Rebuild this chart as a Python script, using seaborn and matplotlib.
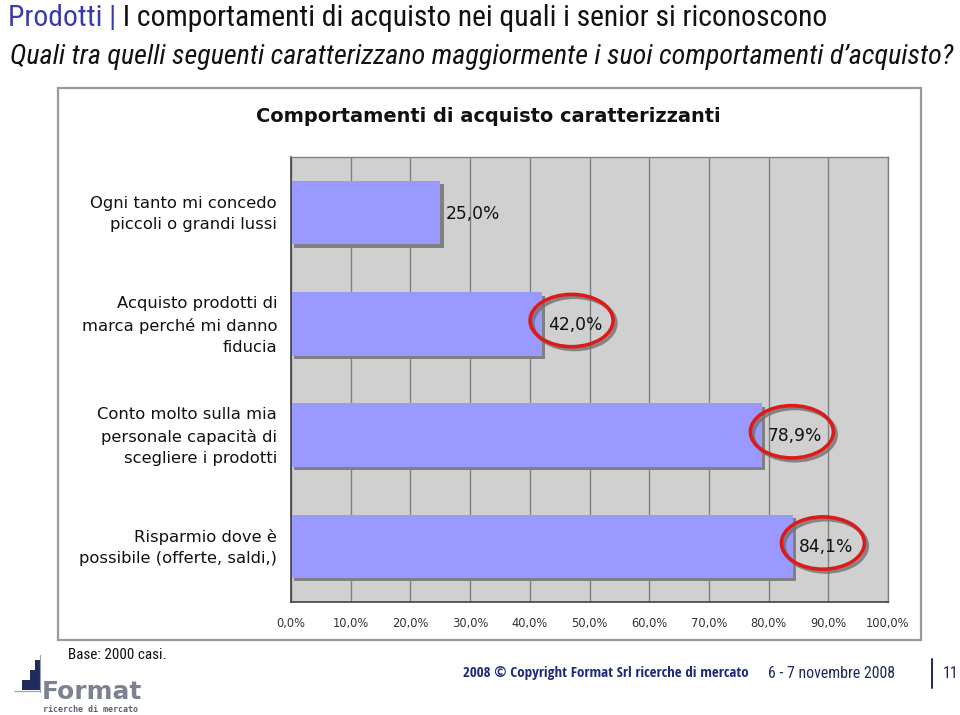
import matplotlib
matplotlib.use("Agg")
import matplotlib.pyplot as plt
import seaborn as sns
import pandas as pd
from matplotlib import patheffects as pe
from matplotlib.patches import Ellipse, Rectangle
from matplotlib import font_manager as fm
from matplotlib.transforms import ScaledTranslation

# ---------------- data ----------------
categories = [
    "Ogni tanto mi concedo\npiccoli o grandi lussi",
    "Acquisto prodotti di\nmarca perché mi danno\nfiducia",
    "Conto molto sulla mia\npersonale capacità di\nscegliere i prodotti",
    "Risparmio dove è\npossibile (offerte, saldi,)",
]
values = [25.0, 42.0, 78.9, 84.1]
value_labels = ["25,0%", "42,0%", "78,9%", "84,1%"]
highlighted = [False, True, True, True]
x_ticks = [0, 10, 20, 30, 40, 50, 60, 70, 80, 90, 100]
x_tick_labels = ["0,0%", "10,0%", "20,0%", "30,0%", "40,0%", "50,0%",
                 "60,0%", "70,0%", "80,0%", "90,0%", "100,0%"]

chart_title = "Comportamenti di acquisto caratterizzanti"
page_section = "Prodotti"
page_title = " I comportamenti di acquisto nei quali i senior si riconoscono"
question = "Quali tra quelli seguenti caratterizzano maggiormente i suoi comportamenti d\u2019acquisto?"
base_note = "Base: 2000 casi."
copyright_note = "2008 \u00a9 Copyright Format Srl ricerche di mercato"
date_note = "6 - 7 novembre 2008"
page_number = "11"

df = pd.DataFrame({"category": categories, "value": values})

# ---------------- fonts ----------------
sns.set_style("white")
plt.rcParams["font.family"] = ["DejaVu Sans"]

def find_font(names, weight="normal", style="normal"):
    for f in fm.fontManager.ttflist:
        if f.name in names and f.style == style and \
           ((weight == "bold") == (str(f.weight) in ("bold", "700", "600"))):
            return fm.FontProperties(fname=f.fname)
    return None

narrow_names = ["Liberation Sans Narrow", "Arial Narrow", "Roboto Condensed",
                "Open Sans Condensed", "DejaVu Sans Condensed", "Noto Sans Condensed"]
def narrow_fp(weight="normal", style="normal"):
    fp = find_font(narrow_names, weight, style)
    if fp is None:
        fp = fm.FontProperties(family="Liberation Sans", weight=weight, style=style)
    return fp

W, H = 960, 715
fig = plt.figure(figsize=(W / 100, H / 100), dpi=100)
fig.patch.set_facecolor("white")

def fx(px):
    return px / W

def fy(py):
    return 1 - py / H

def fit(txt, width_px):
    fig.canvas.draw()
    bb = txt.get_window_extent()
    txt.set_fontsize(txt.get_fontsize() * width_px / bb.width)

# chart frame
fig.patches.append(Rectangle((fx(58), fy(640)), fx(921) - fx(58), fy(88) - fy(640),
                             transform=fig.transFigure, facecolor="white",
                             edgecolor="#9a9a9a", lw=1.6, zorder=-5))

# ---------------- axes ----------------
L, R, T, B = 291, 888, 157, 602
ax = fig.add_axes([fx(L), fy(B), (R - L) / W, (B - T) / H])
ax.set_zorder(2)
ax.set_facecolor("#d0d0d0")

sns.barplot(data=df, x="value", y="category", orient="h", color="#9999ff",
            saturation=1, width=0.57, ax=ax, zorder=2)
for p in ax.patches:
    p.set_edgecolor("none")
    p.set_path_effects([pe.SimplePatchShadow(offset=(2.4, -2.4), shadow_rgbFace="#808080", alpha=1.0),
                        pe.Normal()])

ax.set_xlim(0, 100)
ax.set_ylim(len(categories) - 0.5, -0.5)
ax.set_xticks(x_ticks)
ax.set_xticklabels(x_tick_labels, fontsize=8.3, color="#333333")
ax.tick_params(axis="x", length=4, width=1, color="#404040", pad=7)
ax.set_axisbelow(True)
ax.xaxis.grid(True, color="#808080", lw=1.0)
ax.yaxis.grid(False)

ax.set_yticks(range(len(categories)))
ax.set_yticklabels(categories, fontsize=11.75, color="#111111")
ax.tick_params(axis="y", which="major", length=0, pad=10)
ax.set_yticks([i - 0.5 for i in range(len(categories) + 1)], minor=True)
ax.tick_params(axis="y", which="minor", length=6, width=1, color="#404040")
ax.set_xlabel("")
ax.set_ylabel("")
lift = ScaledTranslation(0, 3 / 100, fig.dpi_scale_trans)
for t in ax.get_yticklabels():
    t.set_linespacing(1.5)
    t.set_transform(t.get_transform() + lift)

for s in ["top", "right"]:
    ax.spines[s].set_color("#808080")
    ax.spines[s].set_linewidth(1.0)
for s in ["left", "bottom"]:
    ax.spines[s].set_color("#404040")
    ax.spines[s].set_linewidth(1.2)

# value labels + highlight ellipses
for i, (v, lab, hl) in enumerate(zip(values, value_labels, highlighted)):
    ax.text(v + 1.0, i + 0.01, lab, va="center", ha="left", fontsize=12.3,
            color="#111111", zorder=6)
    if hl:
        e = Ellipse((v + 5.0, i - 0.03), 13.9, 0.47, facecolor="none",
                    edgecolor="#dd1a1a", lw=2.6, zorder=5)
        e.set_path_effects([pe.SimpleLineShadow(offset=(2, -2), shadow_color="#707070", alpha=0.8),
                            pe.Normal()])
        ax.add_patch(e)

# chart title
ct = fig.text(fx(488), fy(116), chart_title, ha="center", va="center",
              fontsize=12.5, fontweight="bold", color="#111111")
fit(ct, 464)

# ---------------- page header ----------------
fp_n = narrow_fp()
fp_i = narrow_fp(style="italic")
fp_b = narrow_fp(weight="bold")

h1 = fig.text(fx(8), fy(18), page_section + " |", ha="left", va="center",
              fontproperties=fp_n, fontsize=20, color="#3a3ab0")
h2 = fig.text(fx(8), fy(18), page_title, ha="left", va="center",
              fontproperties=fp_n, fontsize=20, color="#111111")
fig.canvas.draw()
w_all = h1.get_window_extent().width + h2.get_window_extent().width
fs = 20 * 818 / w_all
h1.set_fontsize(fs)
h2.set_fontsize(fs)
fig.canvas.draw()
h2.set_x(h1.get_window_extent().x1 / W)

q = fig.text(fx(10), fy(57), question, ha="left", va="center",
             fontproperties=fp_i, fontsize=17, color="#111111")
fit(q, 946)

# ---------------- footer ----------------
bn = fig.text(fx(68), fy(655), base_note, ha="left", va="center", fontproperties=fp_n,
              fontsize=10, color="#111111")
fit(bn, 97)
cp = fig.text(fx(463), fy(673), copyright_note, ha="left", va="center", fontproperties=fp_b,
              fontsize=11, color="#1c2a7a")
fit(cp, 285)
dn = fig.text(fx(768), fy(673), date_note, ha="left", va="center", fontproperties=fp_n,
              fontsize=11, color="#1c2a5a")
fit(dn, 127)
fig.lines.append(plt.Line2D([fx(932), fx(932)], [fy(659), fy(688)],
                            transform=fig.transFigure, color="#1c2a5a", lw=1.4))
pn = fig.text(fx(943), fy(673), page_number, ha="left", va="center", fontproperties=fp_n,
              fontsize=dn.get_fontsize(), color="#1c2a5a")

# logo
for (x0, y0, w, h) in [(22, 680, 18, 10), (30, 670, 10, 10), (35, 660, 5, 10)]:
    fig.patches.append(Rectangle((fx(x0), fy(y0 + h)), w / W, h / H,
                                 transform=fig.transFigure, facecolor="#1f2a5e",
                                 edgecolor="none"))
fig.lines.append(plt.Line2D([fx(40), fx(40)], [fy(655), fy(692)],
                            transform=fig.transFigure, color="#9aa0aa", lw=0.8))
fig.lines.append(plt.Line2D([fx(14), fx(40)], [fy(691), fy(691)],
                            transform=fig.transFigure, color="#9aa0aa", lw=0.8))
lg = fig.text(fx(42), fy(692), "Format", ha="left", va="center", fontsize=15,
              fontweight="bold", color="#7c8390", family="DejaVu Sans")
fit(lg, 100)
lg2 = fig.text(fx(43), fy(709), "ricerche di mercato", ha="left", va="center", fontsize=5.5,
               fontweight="bold", color="#55607a", family="DejaVu Sans Mono")
fit(lg2, 96)

fig.savefig("out.png", dpi=100, facecolor="white")
